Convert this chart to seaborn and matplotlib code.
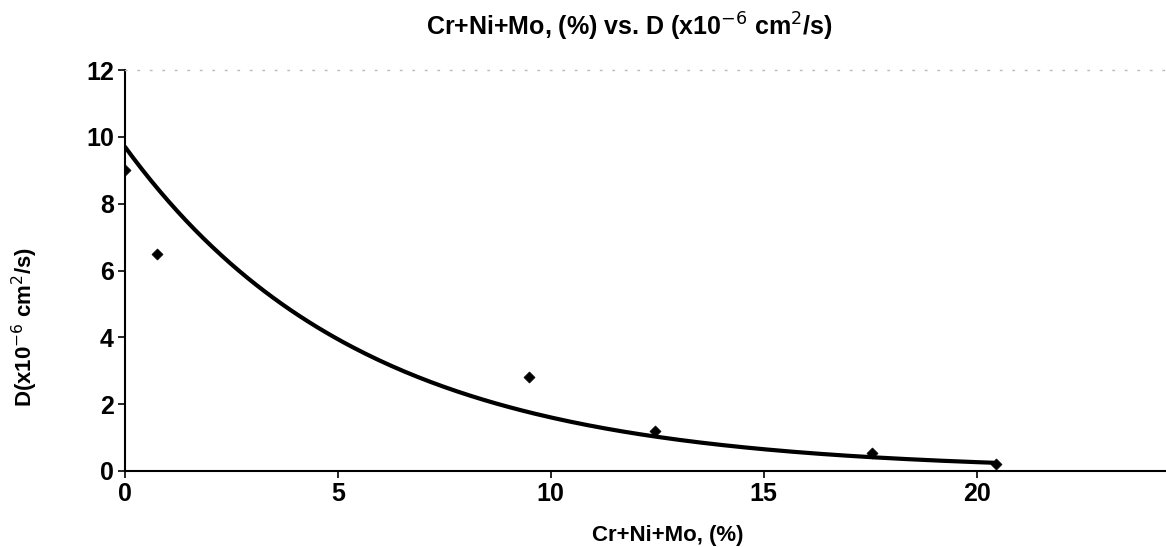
import numpy as np
import pandas as pd
import matplotlib
matplotlib.use("Agg")
import matplotlib.pyplot as plt
import seaborn as sns

# Data
crnimo_pct = [0.0, 0.75, 9.5, 12.45, 17.55, 20.45]
diff_D = [9.0, 6.5, 2.8, 1.2, 0.53, 0.2]
# Exponential trendline coefficients (D = a * exp(-k x)) as drawn
trend_a = 9.7
trend_k = 0.18
trend_xmax = 20.4
xticks = [0, 5, 10, 15, 20]
yticks = [0, 2, 4, 6, 8, 10, 12]

sns.set_theme(style="white")
plt.rcParams['font.family'] = ['Liberation Sans', 'DejaVu Sans']
plt.rcParams['text.color'] = 'black'
plt.rcParams['xtick.color'] = 'black'
plt.rcParams['ytick.color'] = 'black'
plt.rcParams['axes.labelcolor'] = 'black'

fig = plt.figure(figsize=(11.66, 5.47), dpi=100)
ax = fig.add_axes([125/1166, 1 - 471/547, 1 - 125/1166, (471 - 70)/547])

pts = pd.DataFrame({"x": crnimo_pct, "y": diff_D})
tx = np.linspace(0, trend_xmax, 200)
trend = pd.DataFrame({"x": tx, "y": trend_a * np.exp(-trend_k * tx)})

sns.lineplot(data=trend, x="x", y="y", ax=ax, color="black", linewidth=3.0, zorder=3)
sns.scatterplot(data=pts, x="x", y="y", ax=ax, marker="D", s=32, color="black",
                edgecolor="black", zorder=4)

ax.set_xlim(0, 24.45)
ax.set_ylim(0, 12)
ax.set_xticks(xticks)
ax.set_yticks(yticks)
ax.tick_params(axis="both", direction="out", length=5, width=1.2, color="black",
               labelcolor="black", labelsize=18, pad=3, bottom=True, left=True)
for lab in ax.get_xticklabels() + ax.get_yticklabels():
    lab.set_fontweight("bold")

for s in ["left", "bottom"]:
    ax.spines[s].set_color("black")
    ax.spines[s].set_linewidth(1.5)
ax.spines["right"].set_visible(False)
ax.spines["top"].set_color("#bbbbbb")
ax.spines["top"].set_linestyle((0, (1, 8)))
ax.spines["top"].set_linewidth(1)

ax.set_xlabel("Cr+Ni+Mo, (%)", fontsize=16, fontweight="bold", color="black")
ax.set_ylabel("D(x10$^{-6}$ cm$^{2}$/s)", fontsize=16, fontweight="bold", color="black")
ax.xaxis.set_label_coords((668 - 125) / (1166 - 125), (471 - 535) / 401 + 0.0)
ax.xaxis.label.set_va("center")
ax.yaxis.set_label_coords((25 - 125) / (1166 - 125), (471 - 327) / 401)
ax.yaxis.label.set_va("center")

fig.text(629 / 1166, 1 - 27/547, "Cr+Ni+Mo, (%) vs. D (x10$^{-6}$ cm$^{2}$/s)",
         ha="center", va="center", fontsize=18, fontweight="bold", color="black")

fig.savefig("out.png", dpi=100)
